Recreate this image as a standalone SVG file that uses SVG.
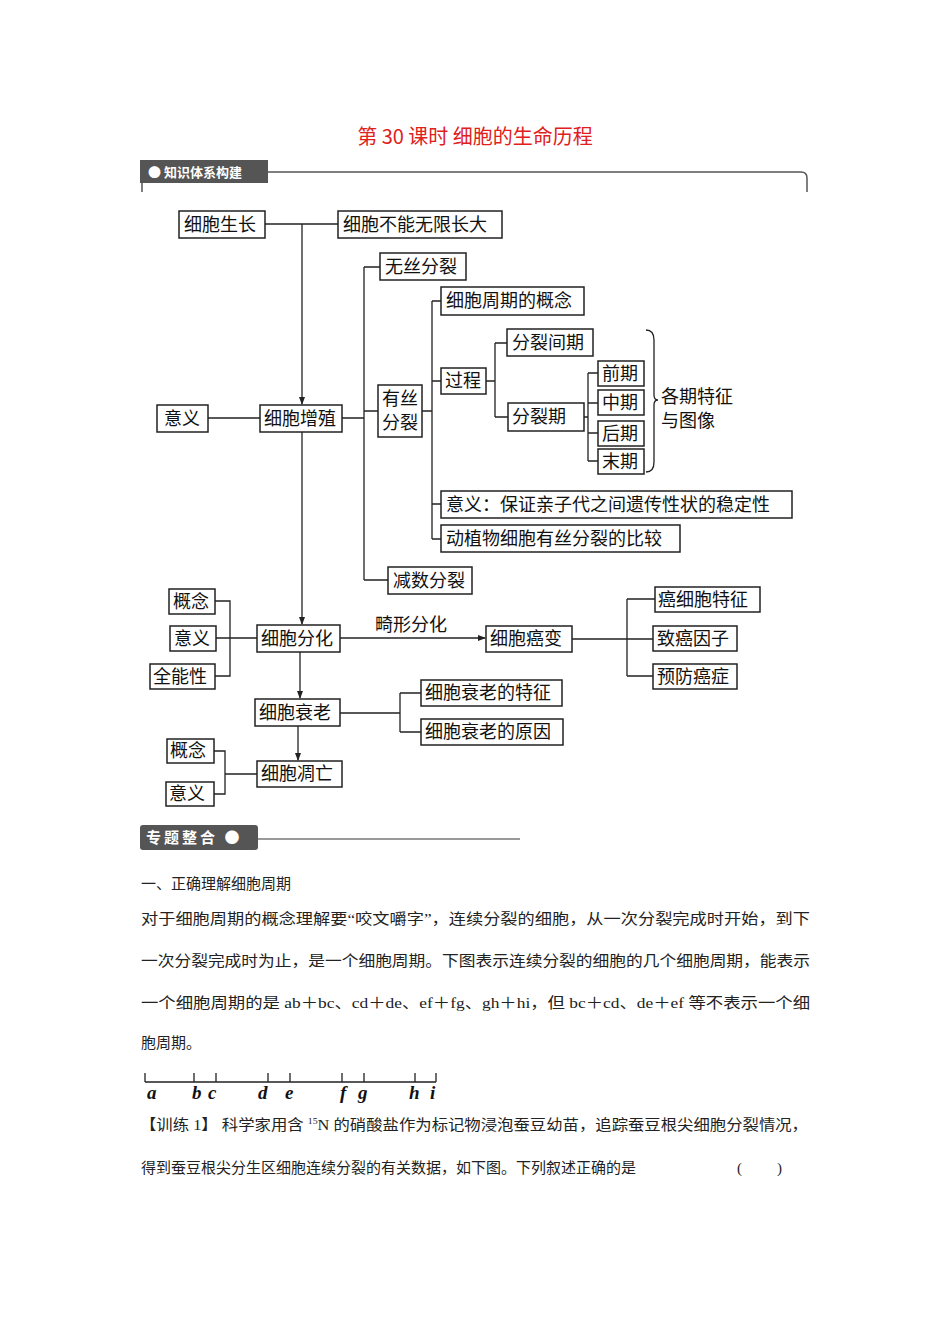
<svg xmlns="http://www.w3.org/2000/svg" width="950" height="1344" viewBox="0 0 950 1344" xml:space="preserve">
<style>
.n rect{fill:#fff;stroke:#222;stroke-width:1.5}
.n text{font-family:"Noto Sans CJK SC","Liberation Serif",serif;font-size:18px;fill:#111}
.c{stroke:#222;stroke-width:1.3;fill:none}
.p{font-family:"Liberation Serif","Noto Sans CJK SC",serif;font-size:15px;fill:#222}
.l{font-family:"Liberation Serif",serif;font-style:italic;font-weight:bold;font-size:19px;fill:#111}
</style>
<defs><marker id="a" markerWidth="8" markerHeight="8" refX="7" refY="4" orient="auto" markerUnits="userSpaceOnUse"><path d="M0,1 L8,4 L0,7 Z" fill="#222"/></marker></defs>
<rect width="950" height="1344" fill="#fff"/>
<text x="475" y="144" text-anchor="middle" font-family="Noto Sans CJK SC,sans-serif" font-size="20" fill="#e0201c">第 30 课时  细胞的生命历程</text>
<g id="hdr1"><rect x="140" y="160" width="128" height="23" fill="#555"/><text x="148" y="177" font-family="Noto Sans CJK SC,sans-serif" font-size="13" font-weight="bold" fill="#fff">● 知识体系构建</text>
<path d="M268,172 H801 Q807,172 807,178 V192 M142,183 V192" stroke="#555" stroke-width="1.5" fill="none"/></g>
<g id="connectors">
<path class="c" d="M265,224 H338"/>
<path class="c" d="M302,224 V404" marker-end="url(#a)"/>
<path class="c" d="M208,418 H260 M342,418 H364 M364,267 V580 M364,267 H380 M364,411 H378 M364,580 H388"/>
<path class="c" d="M422,411 H432 M432,301 V539 M432,301 H441 M432,381 H441 M432,504 H441 M432,539 H441"/>
<path class="c" d="M486,381 H495 M495,343 V417 M495,343 H507 M495,417 H508"/>
<path class="c" d="M584,417 H588 M588,373 V461 M588,373 H598 M588,403 H598 M588,433 H598 M588,461 H598"/>
<path class="c" d="M646,330 Q654,330 654,340 V395 Q654,400 658,400 Q654,400 654,405 V462 Q654,472 646,472"/>
<path class="c" d="M302,432 V624" marker-end="url(#a)"/>
<path class="c" d="M215,601 H230 V676 H215 M216,638 H257"/>
<path class="c" d="M340,638 H485" marker-end="url(#a)"/>
<path class="c" d="M572,639 H653 M627,599 V676 M627,599 H655 M627,676 H653"/>
<path class="c" d="M300,652 V698" marker-end="url(#a)"/>
<path class="c" d="M340,713 H400 M400,693 V732 M400,693 H421 M400,732 H421"/>
<path class="c" d="M298,726 V760" marker-end="url(#a)"/>
<path class="c" d="M214,751 H225 V794 H214 M225,774 H257"/>
</g>
<text x="375" y="631" font-family="Noto Sans CJK SC,sans-serif" font-size="18" fill="#111">畸形分化</text>
<text x="661" y="403" font-family="Noto Sans CJK SC,sans-serif" font-size="18" fill="#111">各期特征</text>
<text x="661" y="427" font-family="Noto Sans CJK SC,sans-serif" font-size="18" fill="#111">与图像</text>
<g id="n1" class="n"><rect x="179" y="211" width="86" height="27"/><text x="184" y="231">细胞生长</text></g>
<g id="n2" class="n"><rect x="338" y="211" width="164" height="27"/><text x="343" y="231">细胞不能无限长大</text></g>
<g id="n3" class="n"><rect x="380" y="253" width="86" height="27"/><text x="385" y="273">无丝分裂</text></g>
<g id="n4" class="n"><rect x="441" y="287" width="143" height="28"/><text x="446" y="307">细胞周期的概念</text></g>
<g id="n5" class="n"><rect x="507" y="329" width="86" height="27"/><text x="512" y="349">分裂间期</text></g>
<g id="n6" class="n"><rect x="441" y="368" width="45" height="26"/><text x="445" y="387">过程</text></g>
<g id="n7" class="n"><rect x="598" y="361" width="46" height="25"/><text x="602" y="380">前期</text></g>
<g id="n8" class="n"><rect x="598" y="390" width="46" height="25"/><text x="602" y="409">中期</text></g>
<g id="n9" class="n"><rect x="598" y="421" width="46" height="25"/><text x="602" y="440">后期</text></g>
<g id="n10" class="n"><rect x="598" y="449" width="46" height="25"/><text x="602" y="468">末期</text></g>
<g id="n11" class="n"><rect x="508" y="403" width="76" height="28"/><text x="512" y="423">分裂期</text></g>
<g id="n12" class="n"><rect x="157" y="405" width="51" height="27"/><text x="164" y="425">意义</text></g>
<g id="n13" class="n"><rect x="260" y="405" width="82" height="27"/><text x="264" y="425">细胞增殖</text></g>
<g id="n14" class="n"><rect x="378" y="385" width="44" height="52"/><text x="382" y="405">有丝</text><text x="382" y="429">分裂</text></g>
<g id="n15" class="n"><rect x="441" y="491" width="351" height="27"/><text x="446" y="511">意义：保证亲子代之间遗传性状的稳定性</text></g>
<g id="n16" class="n"><rect x="441" y="525" width="239" height="27"/><text x="446" y="545">动植物细胞有丝分裂的比较</text></g>
<g id="n17" class="n"><rect x="388" y="567" width="84" height="27"/><text x="393" y="587">减数分裂</text></g>
<g id="n18" class="n"><rect x="257" y="625" width="83" height="27"/><text x="261" y="645">细胞分化</text></g>
<g id="n19" class="n"><rect x="169" y="589" width="46" height="25"/><text x="173" y="608">概念</text></g>
<g id="n20" class="n"><rect x="170" y="626" width="46" height="25"/><text x="174" y="645">意义</text></g>
<g id="n21" class="n"><rect x="150" y="664" width="65" height="25"/><text x="153" y="683">全能性</text></g>
<g id="n22" class="n"><rect x="486" y="626" width="86" height="26"/><text x="490" y="645">细胞癌变</text></g>
<g id="n23" class="n"><rect x="655" y="587" width="105" height="25"/><text x="658" y="606">癌细胞特征</text></g>
<g id="n24" class="n"><rect x="653" y="626" width="84" height="25"/><text x="657" y="645">致癌因子</text></g>
<g id="n25" class="n"><rect x="653" y="664" width="84" height="25"/><text x="657" y="683">预防癌症</text></g>
<g id="n26" class="n"><rect x="255" y="699" width="85" height="27"/><text x="259" y="719">细胞衰老</text></g>
<g id="n27" class="n"><rect x="421" y="680" width="141" height="26"/><text x="425" y="699">细胞衰老的特征</text></g>
<g id="n28" class="n"><rect x="421" y="719" width="142" height="26"/><text x="425" y="738">细胞衰老的原因</text></g>
<g id="n29" class="n"><rect x="257" y="761" width="85" height="26"/><text x="261" y="780">细胞凋亡</text></g>
<g id="n30" class="n"><rect x="167" y="739" width="47" height="24"/><text x="170" y="757">概念</text></g>
<g id="n31" class="n"><rect x="166" y="782" width="48" height="24"/><text x="169" y="800">意义</text></g>
<g id="hdr2"><rect x="140" y="825" width="118" height="25" rx="3" fill="#555"/><text x="146" y="843" font-family="Noto Sans CJK SC,sans-serif" font-size="15" font-weight="bold" fill="#fff" letter-spacing="3">专题整合 ●</text>
<path d="M258,839 H520" stroke="#777" stroke-width="1.5"/></g>
<text class="p" x="141" y="889">一、正确理解细胞周期</text>
<text class="p" x="141" y="924" textLength="669" lengthAdjust="spacingAndGlyphs">对于细胞周期的概念理解要“咬文嚼字”，连续分裂的细胞，从一次分裂完成时开始，到下</text>
<text class="p" x="141" y="966" textLength="669" lengthAdjust="spacingAndGlyphs">一次分裂完成时为止，是一个细胞周期。下图表示连续分裂的细胞的几个细胞周期，能表示</text>
<text class="p" x="141" y="1008" textLength="669" lengthAdjust="spacingAndGlyphs">一个细胞周期的是 ab＋bc、cd＋de、ef＋fg、gh＋hi，但 bc＋cd、de＋ef 等不表示一个细</text>
<text class="p" x="141" y="1048">胞周期。</text>
<path class="c" d="M145,1082 H436 M145,1073 V1082 M194,1073 V1082 M216,1073 V1082 M268,1073 V1082 M290,1073 V1082 M342,1073 V1082 M364,1073 V1082 M415,1073 V1082 M436,1073 V1082"/>
<text class="l" x="147" y="1099">a</text><text class="l" x="192" y="1099">b</text><text class="l" x="208" y="1099">c</text><text class="l" x="258" y="1099">d</text><text class="l" x="285" y="1099">e</text><text class="l" x="340" y="1099">f</text><text class="l" x="358" y="1099">g</text><text class="l" x="409" y="1099">h</text><text class="l" x="430" y="1099">i</text>
<text class="p" x="140" y="1130" textLength="668" lengthAdjust="spacingAndGlyphs">【训练 1】 科学家用含 <tspan font-size="9" dy="-6">15</tspan><tspan dy="6">N 的硝酸盐作为标记物浸泡蚕豆幼苗，追踪蚕豆根尖细胞分裂情况，</tspan></text>
<text class="p" x="141" y="1173">得到蚕豆根尖分生区细胞连续分裂的有关数据，如下图。下列叙述正确的是</text>
<text class="p" x="737" y="1173">(</text><text class="p" x="777" y="1173">)</text>
</svg>
